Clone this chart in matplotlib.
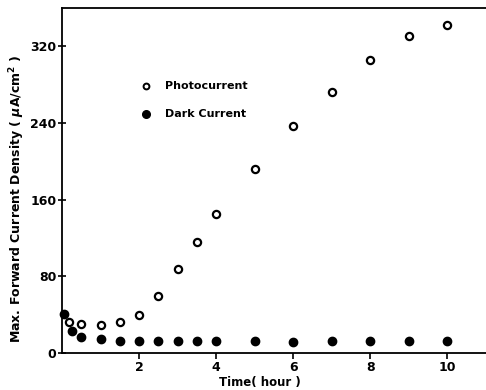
import matplotlib
matplotlib.use("Agg")
import matplotlib.pyplot as plt

# データ
photo_time = [0.17, 0.5, 1.0, 1.5, 2.0, 2.5, 3.0, 3.5, 4.0, 5.0, 6.0, 7.0, 8.0, 9.0, 10.0]
photo_current = [32, 30, 29, 32, 40, 59, 88, 116, 145, 192, 237, 273, 306, 331, 342]

dark_time = [0.05, 0.25, 0.5, 1.0, 1.5, 2.0, 2.5, 3.0, 3.5, 4.0, 5.0, 6.0, 7.0, 8.0, 9.0, 10.0]
dark_current = [41, 23, 16.5, 14.5, 12.5, 12.5, 12.5, 12.5, 12.5, 12.5, 12.5, 11.5, 13, 12, 12.5, 12.5]

x_ticks = [2, 4, 6, 8, 10]
y_ticks = [0, 80, 160, 240, 320]

plt.rcParams['font.family'] = ['DejaVu Sans']
plt.rcParams['font.weight'] = 'bold'

fig = plt.figure(figsize=(4.86, 3.9), dpi=100)
ax = fig.add_axes([0.1276, 0.095, 0.8724, 0.884])

# 明電流（白丸）と暗電流（黒丸）
ax.plot(photo_time, photo_current, linestyle='none', marker='o', markersize=5.2,
        markerfacecolor='white', markeredgecolor='black', markeredgewidth=1.6,
        clip_on=False)
ax.plot(dark_time, dark_current, linestyle='none', marker='o', markersize=6,
        color='black', clip_on=False)

ax.set_xlim(0, 11)
ax.set_ylim(0, 360)
ax.set_xticks(x_ticks)
ax.set_yticks(y_ticks)

ax.spines['right'].set_visible(False)
for s in ['top', 'bottom', 'left']:
    ax.spines[s].set_linewidth(1.3)

ax.tick_params(axis='x', direction='out', length=4, width=1.2, labelsize=9, pad=2)
ax.tick_params(axis='y', direction='inout', length=6, width=1.2, labelsize=9, pad=1)

ax.set_xlabel('Time( hour )', fontsize=8.5, fontweight='bold', labelpad=1)
ax.xaxis.set_label_coords(0.467, -0.066)
ax.set_ylabel('Max. Forward Current Density ( $\\mu$A/cm$^2$ )', fontsize=9,
              fontweight='bold')
ax.yaxis.set_label_coords(-0.082, 0.446)

# 凡例（図中に配置）
ax.plot([2.19], [279], linestyle='none', marker='o', markersize=4.2,
        markerfacecolor='white', markeredgecolor='black', markeredgewidth=1.4)
ax.plot([2.19], [250], linestyle='none', marker='o', markersize=5.5, color='black')
ax.text(2.68, 279, 'Photocurrent', fontsize=8, fontweight='bold', va='center')
ax.text(2.68, 250, 'Dark Current', fontsize=8, fontweight='bold', va='center')

fig.savefig('out.png', dpi=100)
